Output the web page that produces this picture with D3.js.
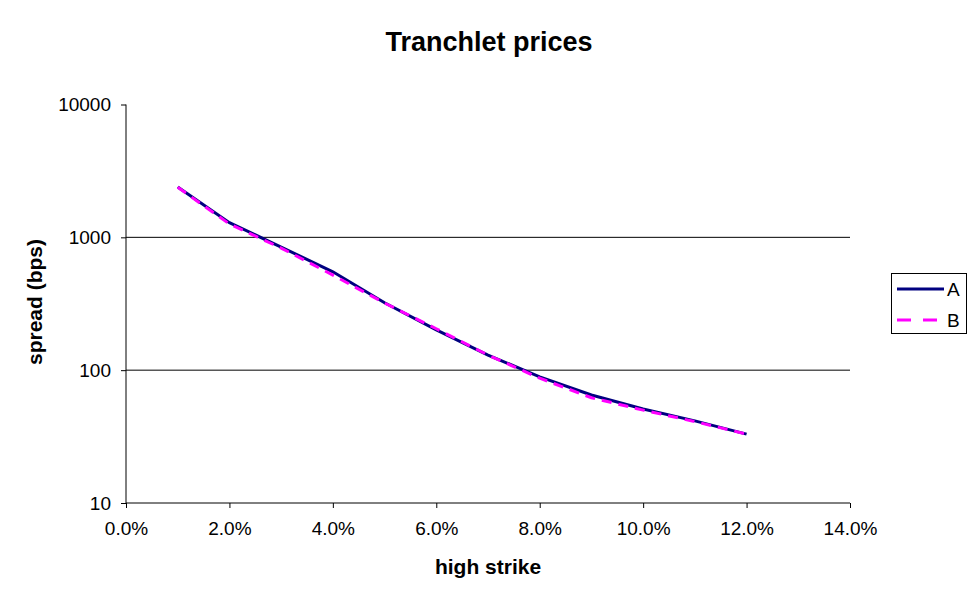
<!DOCTYPE html>
<html><head><meta charset="utf-8">
<script src="https://cdn.jsdelivr.net/npm/d3@7"></script>
<style>
body{margin:0;background:#fff;}
text{font-family:"Liberation Sans",Arial,sans-serif;}
</style></head>
<body>
<svg id="chart" width="977" height="600"></svg>
<script>
const strikes = [0.01,0.02,0.03,0.04,0.05,0.06,0.07,0.08,0.09,0.10,0.11,0.12];
const seriesA = [2390,1290,845,550,322,201,130,89,65,51,41.5,33];
const seriesB = [2380,1260,830,520,320,205,130,87,62,50,41,33];
const xTicks = [0,0.02,0.04,0.06,0.08,0.10,0.12,0.14];
const yTicks = [10,100,1000,10000];
const seriesNames = ["A","B"];

const svg = d3.select("#chart");
const L=126, R=850, T=104.5, B=503;
const x = d3.scaleLinear().domain([0,0.14]).range([L,R]);
const y = d3.scaleLog().domain([10,10000]).range([B,T]);

// gridlines
svg.append("g").selectAll("line").data([100,1000]).join("line")
  .attr("x1",L).attr("x2",R).attr("y1",d=>y(d)).attr("y2",d=>y(d))
  .attr("stroke","#000").attr("stroke-width",1);

// axes
const xAxis = d3.axisBottom(x).tickValues(xTicks).tickFormat(d3.format(".1%")).tickSize(5).tickPadding(14);
const gx = svg.append("g").attr("transform",`translate(0,${B})`).call(xAxis);
const yAxis = d3.axisLeft(y).tickValues(yTicks).tickFormat(d3.format("d")).tickSize(5).tickPadding(10);
const gy = svg.append("g").attr("transform",`translate(${L},0)`).call(yAxis);
[gx,gy].forEach(g=>{
  g.attr("font-size",19).attr("font-family","Liberation Sans, Arial, sans-serif");
  g.select(".domain").attr("stroke","#000").attr("stroke-width",1);
  g.selectAll(".tick line").attr("stroke","#000");
  g.selectAll("text").attr("font-size",19).attr("fill","#000");
});
gx.select(".domain").attr("d",`M${L},0H${R}`);
gy.select(".domain").attr("d",`M0,${B}V${T}`);

// lines
const line = d3.line().x(d=>x(d[0])).y(d=>y(d[1]));
svg.append("path").datum(strikes.map((s,i)=>[s,seriesA[i]]))
  .attr("d",line).attr("fill","none").attr("stroke","#000080").attr("stroke-width",3);
svg.append("path").datum(strikes.map((s,i)=>[s,seriesB[i]]))
  .attr("d",line).attr("fill","none").attr("stroke","#FF00FF").attr("stroke-width",3)
  .attr("stroke-dasharray","10,7");

// titles
svg.append("text").attr("x",489).attr("y",51).attr("text-anchor","middle")
  .attr("font-size",27).attr("font-weight","bold").text("Tranchlet prices");
svg.append("text").attr("x",488).attr("y",574).attr("text-anchor","middle")
  .attr("font-size",21).attr("font-weight","bold").text("high strike");
svg.append("text").attr("transform","translate(42,302) rotate(-90)").attr("text-anchor","middle")
  .attr("font-size",21).attr("font-weight","bold").text("spread (bps)");

// legend
const lg = svg.append("g");
lg.append("rect").attr("x",891.5).attr("y",273.5).attr("width",75).attr("height",60)
  .attr("fill","#fff").attr("stroke","#000").attr("stroke-width",1);
const colors=["#000080","#FF00FF"], dashes=[null,"14,12"];
seriesNames.forEach((n,i)=>{
  const yy = 289 + i*31;
  lg.append("line").attr("x1",897).attr("x2",944).attr("y1",yy).attr("y2",yy)
    .attr("stroke",colors[i]).attr("stroke-width",3).attr("stroke-dasharray",dashes[i]);
  lg.append("text").attr("x",947).attr("y",yy+7).attr("font-size",19).text(n);
});
</script>
</body></html>
